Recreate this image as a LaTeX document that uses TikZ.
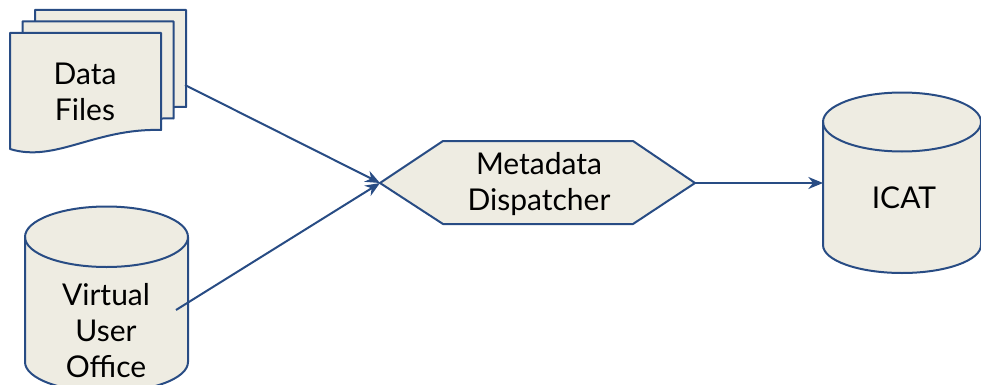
\documentclass[tikz,border=0pt]{standalone}
\usepackage{fontspec}
\setmainfont{Lato}
\usetikzlibrary{arrows.meta}
\definecolor{lineblue}{RGB}{40,76,132}
\definecolor{shapefill}{RGB}{238,236,226}
\tikzset{
  shapeline/.style={draw=lineblue, fill=shapefill, line width=1.5pt, line join=round},
  label/.style={align=center, inner sep=0pt, font=\fontsize{22.5}{27}\selectfont, text=black},
  conn/.style={draw=lineblue, line width=1.5pt, -{Stealth[length=11pt,width=9pt]}},
}
\begin{document}
\begin{tikzpicture}[x=0.75pt,y=-0.75pt]
\useasboundingbox (0,0) rectangle (981,385);
% Data files (three stacked documents)
\foreach \dx/\dy in {25/-23, 12.5/-11.5, 0/0}{
  \path[shapeline] (10+\dx,33+\dy) -- (161+\dx,33+\dy) -- (161+\dx,130+\dy)
    .. controls (95+\dx,128+\dy) and (55+\dx,163+\dy) .. (10+\dx,149+\dy) -- cycle;
}
\node[label] (files) at (85,92) {Data\\Files};
\coordinate (filesout) at (185,85);
% Virtual User Office cylinder
\path[shapeline] (25,237) -- (25,362) arc[start angle=180, end angle=0, x radius=81.5, y radius=30] -- (188,237)
  arc[start angle=0, end angle=-180, x radius=81.5, y radius=30.5];
\draw[shapeline, fill=none] (25,237) arc[start angle=180, end angle=0, x radius=81.5, y radius=30];
\node[label] (vuo) at (106,331) {Virtual\\User\\Office};
\coordinate (vuoout) at (176,310);
% Metadata Dispatcher hexagon
\path[shapeline] (380,183) -- (443,141) -- (633,141) -- (695,183) -- (633,224) -- (443,224) -- cycle;
\coordinate (mdin) at (380,183);
\coordinate (mdout) at (695,183);
\node[label] (md) at (539,184) {Metadata\\Dispatcher};
% ICAT cylinder
\path[shapeline] (823,122) -- (823,245) arc[start angle=180, end angle=0, x radius=79, y radius=28] -- (981,122)
  arc[start angle=0, end angle=-180, x radius=79, y radius=29.5];
\draw[shapeline, fill=none] (823,122) arc[start angle=180, end angle=0, x radius=79, y radius=29.5];
\node[label] (icat) at (904,198) {ICAT};
\coordinate (icatin) at (823,183);
% connectors
\draw[conn] (filesout) -- (mdin);
\draw[conn] (vuoout) -- (mdin);
\draw[conn] (mdout) -- (icatin);
\end{tikzpicture}
\end{document}
